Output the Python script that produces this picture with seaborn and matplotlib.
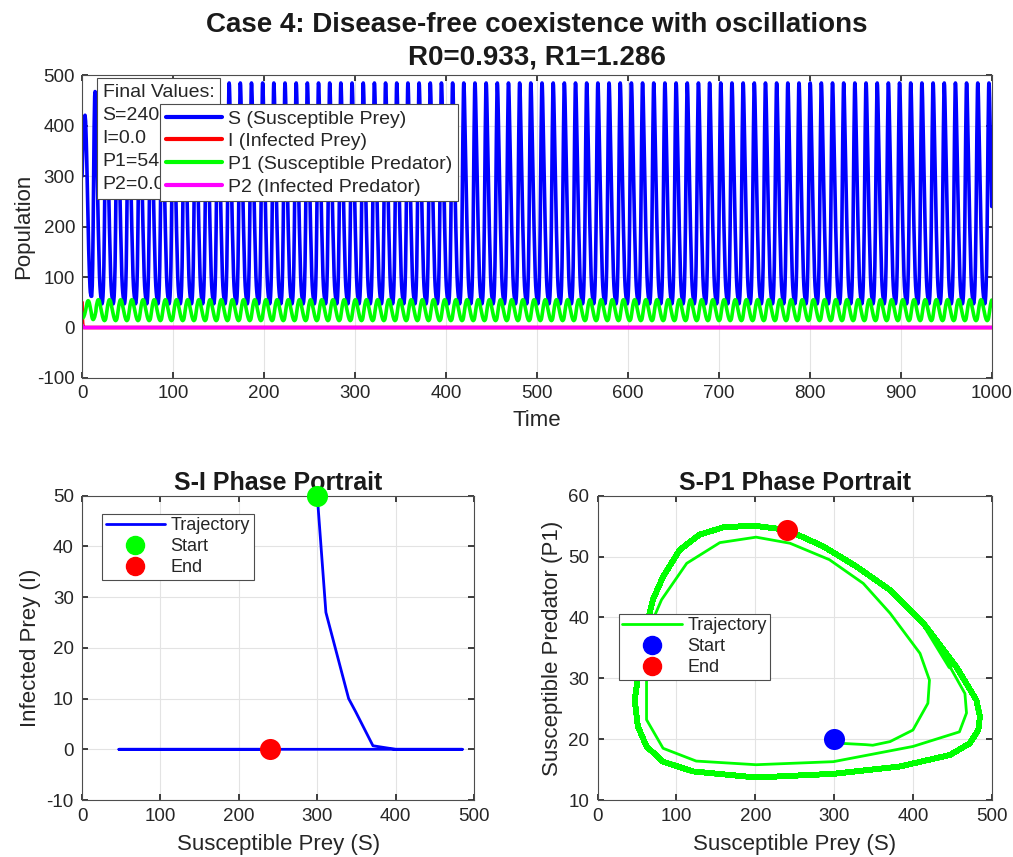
import numpy as np
import pandas as pd
import matplotlib
matplotlib.use("Agg")
import matplotlib.pyplot as plt
import seaborn as sns
from matplotlib.lines import Line2D

# ---------------- data ----------------
# transient (first loop) : time, S, I, P1, P2
t_trans = [0, 0.2, 0.6, 0.8, 1.2, 1.9, 2.8, 3.3, 3.9, 4.6, 5.1, 5.6, 6.2, 6.7, 7.3,
           8.0, 8.7, 9.1, 9.9, 10.6, 11.2, 11.7, 12.2, 12.7, 13.3, 13.9, 14.3, 14.6, 15.2]
S_trans = [300, 311, 340, 349, 371, 400, 419, 421, 409, 371, 337, 294, 244, 201, 155,
           113, 81, 70, 62, 62, 83, 125, 201, 299, 400, 459, 468, 466, 447]
P1_trans = [20, 19.3, 19.1, 19.0, 19.6, 21.5, 25.9, 29.7, 34.1, 40.7, 45.6, 49.5, 52.2, 53.2, 52.3,
            48.9, 42.9, 39.6, 31.9, 23.2, 18.5, 16.4, 15.8, 16.3, 18.8, 21.2, 24.3, 27.5, 31.9]
I_trans = [50, 27, 10, 7.4, 0.7, 0, 0, 0, 0, 0, 0, 0, 0, 0, 0,
           0, 0, 0, 0, 0, 0, 0, 0, 0, 0, 0, 0, 0, 0]
P2_trans = [5, 3.5, 1.5, 1.0, 0.4, 0.1, 0, 0, 0, 0, 0, 0, 0, 0, 0,
            0, 0, 0, 0, 0, 0, 0, 0, 0, 0, 0, 0, 0, 0]

# settled limit cycle (one period, starting at the S peak)
cyc_phase = [0.0, 0.3, 0.7, 1.2, 1.65, 2.1, 2.55, 3.05, 3.55, 4.05, 4.45, 4.85, 5.35, 5.85,
             6.3, 7.0, 7.7, 8.2, 8.7, 9.2, 9.7, 10.3, 10.8, 11.3, 11.7, 11.95, 12.12]
cyc_S = [485, 480.6, 455, 413, 371, 328, 286, 240, 197, 159, 129, 104, 83, 70,
         62, 53, 47, 51, 62, 83, 121, 201, 299, 383, 447, 472, 483]
cyc_P1 = [23.7, 26.4, 31.9, 39.1, 44.5, 48.4, 51.7, 54.4, 55.1, 54.8, 53.6, 51.1, 46.7, 42.9,
          38.5, 31.9, 26.4, 22.1, 18.8, 16.3, 14.7, 13.7, 14.3, 15.5, 17.4, 19.3, 21.5]
period = 12.283
first_peak = 14.3
n_cycles = 81
t_end = 1000

R0, R1 = 0.933, 1.286
final_S, final_I, final_P1, final_P2 = 240.3, 0.0, 54.4, 0.0

# ---------------- assemble series ----------------
T, S, I, P1, P2 = list(t_trans), list(S_trans), list(I_trans), list(P1_trans), list(P2_trans)
for k in range(n_cycles):
    for ph, s, p in zip(cyc_phase, cyc_S, cyc_P1):
        tt = first_peak + k * period + ph
        if tt > t_trans[-1] and tt <= t_end + 1e-6:
            T.append(tt); S.append(s); P1.append(p); I.append(0.0); P2.append(0.0)
df = pd.DataFrame({"t": T, "S": S, "I": I, "P1": P1, "P2": P2})
df_first = df[df["t"] <= t_trans[-1]]
df_settled = df[df["t"] >= t_trans[-1]]

# ---------------- style ----------------
sns.set_theme(style="whitegrid")
plt.rcParams["font.family"] = ["Liberation Sans", "DejaVu Sans"]
txt = "#262626"
plt.rcParams.update({
    "axes.unicode_minus": False,
    "axes.edgecolor": "#4d4d4d", "axes.linewidth": 0.8,
    "grid.color": "#e3e3e3", "grid.linewidth": 0.8,
    "xtick.color": txt, "ytick.color": txt,
    "xtick.labelcolor": txt, "ytick.labelcolor": txt,
    "axes.labelcolor": txt, "text.color": txt,
    "xtick.direction": "in", "ytick.direction": "in",
    "xtick.major.size": 4, "ytick.major.size": 4,
    "xtick.top": True, "ytick.right": True,
    "xtick.bottom": True, "ytick.left": True,
    "lines.solid_joinstyle": "round",
})

fig = plt.figure(figsize=(10.13, 8.57), dpi=100)
ax1 = fig.add_axes([0.081, 0.559, 0.898, 0.353])
ax2 = fig.add_axes([0.081, 0.0665, 0.387, 0.355])
ax3 = fig.add_axes([0.590, 0.0665, 0.389, 0.355])

TICK = 13.5
LAB = 16
LEG = 14

# ---------------- top: time series ----------------
series = [("S", "S (Susceptible Prey)", "#0000ff"),
          ("I", "I (Infected Prey)", "#ff0000"),
          ("P1", "P1 (Susceptible Predator)", "#00ff00"),
          ("P2", "P2 (Infected Predator)", "#ff00ff")]
for col, lab, c in series:
    sns.lineplot(data=df, x="t", y=col, ax=ax1, color=c, lw=2.6, estimator=None,
                 sort=False, legend=False)
ax1.set_xlim(0, 1000)
ax1.set_ylim(-100, 500)
ax1.set_xticks(range(0, 1001, 100))
ax1.set_yticks(range(-100, 501, 100))
ax1.set_xlabel("Time", fontsize=LAB, labelpad=6)
ax1.set_ylabel("Population", fontsize=LAB, labelpad=2)
ax1.tick_params(labelsize=TICK, pad=5)
ax1.set_title(f"Case 4: Disease-free coexistence with oscillations\nR0={R0:.3f}, R1={R1:.3f}",
              fontsize=20, fontweight="bold", color="#1a1a1a", pad=8, linespacing=1.3)
handles = [Line2D([], [], color=c, lw=3) for _, _, c in series]
leg1 = ax1.legend(handles, [l for _, l, _ in series], loc="upper left",
                  bbox_to_anchor=(0.0857, 0.905), fontsize=LEG, frameon=True, fancybox=False,
                  edgecolor="#4d4d4d", framealpha=1, borderpad=0.3, labelspacing=0.26,
                  handlelength=2.9, handletextpad=0.3, borderaxespad=0)
leg1.get_frame().set_linewidth(0.8)
leg1.set_zorder(10)
ax1.text(0.0225, 0.972,
         f"Final Values:\nS={final_S:.1f}\nI={final_I:.1f}\nP1={final_P1:.1f}\nP2={final_P2:.1f}",
         transform=ax1.transAxes, fontsize=LEG, va="top", ha="left", zorder=8, linespacing=1.46,
         bbox=dict(boxstyle="square,pad=0.3", fc="white", ec="#4d4d4d", lw=0.8))

# ---------------- bottom-left: S-I ----------------
sns.lineplot(data=df, x="S", y="I", ax=ax2, color="#0000ff", lw=2.0, sort=False,
             estimator=None, legend=False)
ax2.scatter([S[0]], [I[0]], s=230, color="#00ff00", zorder=5, linewidths=0, clip_on=False)
ax2.scatter([S[-1]], [I[-1]], s=230, color="#ff0000", zorder=5, linewidths=0, clip_on=False)
ax2.set_xlim(0, 500); ax2.set_ylim(-10, 50)
ax2.set_xticks(range(0, 501, 100)); ax2.set_yticks(range(-10, 51, 10))
ax2.set_xlabel("Susceptible Prey (S)", fontsize=LAB, labelpad=6)
ax2.set_ylabel("Infected Prey (I)", fontsize=LAB, labelpad=4)
ax2.tick_params(labelsize=TICK, pad=6)
ax2.set_title("S-I Phase Portrait", fontsize=18, fontweight="bold", color="#1a1a1a", pad=4)
h2 = [Line2D([], [], color="#0000ff", lw=2),
      Line2D([], [], ls="", marker="o", ms=13, color="#00ff00"),
      Line2D([], [], ls="", marker="o", ms=13, color="#ff0000")]
l2 = ax2.legend(h2, ["Trajectory", "Start", "End"], loc="upper left",
                bbox_to_anchor=(0.051, 0.941), fontsize=13, frameon=True, fancybox=False,
                edgecolor="#4d4d4d", framealpha=1, borderpad=0.2, labelspacing=0.22,
                handlelength=3.3, handletextpad=0.3, borderaxespad=0)
l2.get_frame().set_linewidth(0.8)

# ---------------- bottom-right: S-P1 ----------------
sns.lineplot(data=df_first, x="S", y="P1", ax=ax3, color="#00ff00", lw=2.0, sort=False,
             estimator=None, legend=False)
sns.lineplot(data=df_settled, x="S", y="P1", ax=ax3, color="#00ff00", lw=3.6, sort=False,
             estimator=None, legend=False)
ax3.scatter([S[0]], [P1[0]], s=230, color="#0000ff", zorder=5, linewidths=0)
ax3.scatter([S[-1]], [P1[-1]], s=230, color="#ff0000", zorder=5, linewidths=0)
ax3.set_xlim(0, 500); ax3.set_ylim(10, 60)
ax3.set_xticks(range(0, 501, 100)); ax3.set_yticks(range(10, 61, 10))
ax3.set_xlabel("Susceptible Prey (S)", fontsize=LAB, labelpad=6)
ax3.set_ylabel("Susceptible Predator (P1)", fontsize=LAB, labelpad=4)
ax3.tick_params(labelsize=TICK, pad=6)
ax3.set_title("S-P1 Phase Portrait", fontsize=18, fontweight="bold", color="#1a1a1a", pad=4)
h3 = [Line2D([], [], color="#00ff00", lw=2),
      Line2D([], [], ls="", marker="o", ms=13, color="#0000ff"),
      Line2D([], [], ls="", marker="o", ms=13, color="#ff0000")]
l3 = ax3.legend(h3, ["Trajectory", "Start", "End"], loc="upper left",
                bbox_to_anchor=(0.053, 0.612), fontsize=13, frameon=True, fancybox=False,
                edgecolor="#4d4d4d", framealpha=1, borderpad=0.2, labelspacing=0.22,
                handlelength=3.3, handletextpad=0.3, borderaxespad=0)
l3.get_frame().set_linewidth(0.8)

for a in (ax1, ax2, ax3):
    for sp in a.spines.values():
        sp.set_visible(True)
        sp.set_color("#4d4d4d")
    a.set_axisbelow(True)

fig.savefig("out.png", dpi=100, facecolor="white")
